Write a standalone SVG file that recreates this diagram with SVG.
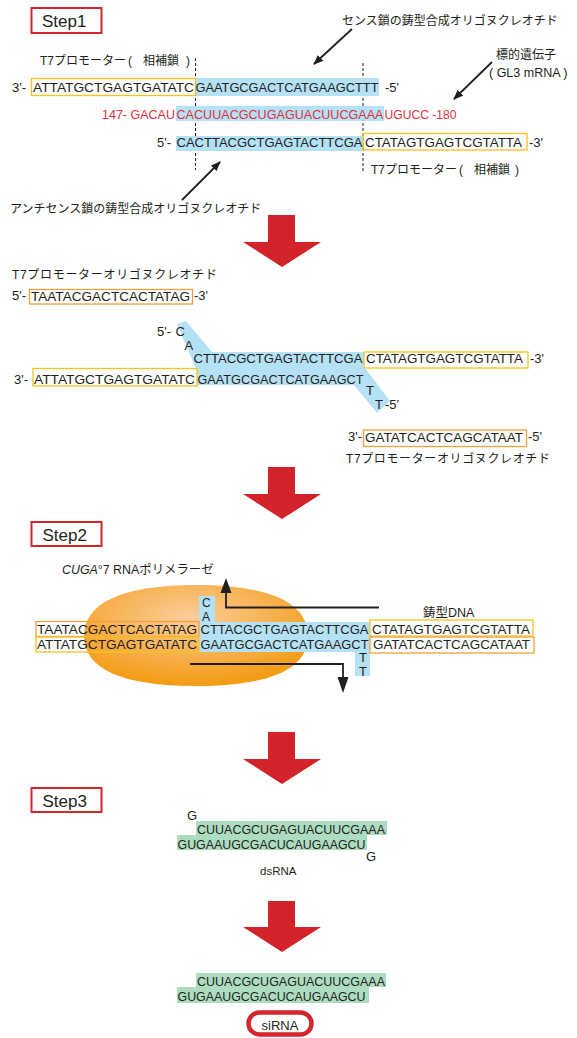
<svg xmlns="http://www.w3.org/2000/svg" width="577" height="1038" viewBox="0 0 577 1038">
<defs>
<style>
.seq{font-family:"Liberation Sans",Arial,sans-serif;font-size:13px;fill:#231F20}
.sq{font-family:"Liberation Sans",Arial,sans-serif;font-size:13px;fill:#231F20}
.jp{font-family:"Liberation Sans","Noto Sans CJK JP",sans-serif;font-size:12px;fill:#231F20}
.red{fill:#E0303A;font-size:12.5px}
.rna{font-size:12.4px}
.ybox{fill:none;stroke:#F9C21E;stroke-width:1.3}
.obox{fill:none;stroke:#F2A03D;stroke-width:1.3}
.blue{fill:#B5E1F6}
.green{fill:#ADDDC0}
.step{fill:#fff;stroke:#D4262E;stroke-width:2}
.steptxt{font-family:"Liberation Sans",Arial,sans-serif;font-size:17px;fill:#231F20}
.big{fill:#D2232A}
.ln{stroke:#231F20;stroke-width:1.8;fill:none}
.dash{stroke:#231F20;stroke-width:1;stroke-dasharray:3 2;fill:none}
.head{fill:#231F20}
</style>
<marker id="ah" viewBox="0 0 10 8" refX="9" refY="4" markerWidth="10" markerHeight="8" markerUnits="userSpaceOnUse" orient="auto"><path d="M0,0 L10,4 L0,8 Z" fill="#231F20"/></marker>
<radialGradient id="og" cx="0.47" cy="0.32" r="0.66">
<stop offset="0" stop-color="#FBCD9C"/>
<stop offset="0.5" stop-color="#F8B458"/>
<stop offset="1" stop-color="#F39C16"/>
</radialGradient>
</defs>
<rect width="577" height="1038" fill="#fff"/>

<!-- STEP 1 -->
<g id="step1-label"><rect class="step" x="31.5" y="8" width="70" height="25"/><text class="steptxt" x="42" y="27">Step1</text></g>

<g id="dashes">
<line class="dash" x1="195.5" y1="58" x2="195.5" y2="170"/>
<line class="dash" x1="363" y1="63" x2="363" y2="172"/>
</g>

<g id="label-t7-comp-1"><text class="jp" x="40" y="65">T7プロモーター<tspan x="128">(</tspan><tspan x="143">相補鎖</tspan><tspan x="186">)</tspan></text></g>
<g id="label-sense"><text class="jp" x="342" y="25">センス鎖の鋳型合成オリゴヌクレオチド</text></g>
<g id="label-target"><text class="jp" x="496" y="59">標的遺伝子</text><text class="seq" style="font-size:12.5px" x="489" y="77">( GL3 mRNA )</text></g>
<g id="label-antisense"><text class="jp" x="10" y="213">アンチセンス鎖の鋳型合成オリゴヌクレオチド</text></g>
<g id="label-t7-comp-2"><text class="jp" x="371" y="174">T7プロモーター<tspan x="459">(</tspan><tspan x="474">相補鎖</tspan><tspan x="515">)</tspan></text></g>

<g id="row-sense-template">
<rect class="blue" x="195" y="78" width="184" height="18"/>
<rect class="ybox" x="31.5" y="78.5" width="164" height="17"/>
<text class="seq" x="12" y="92">3'-</text>
<text class="sq" x="33" y="92" textLength="161" lengthAdjust="spacingAndGlyphs">ATTATGCTGAGTGATATC</text>
<text class="sq" x="195.5" y="92" textLength="183" lengthAdjust="spacingAndGlyphs">GAATGCGACTCATGAAGCTTT</text>
<text class="seq" x="385" y="92">-5'</text>
</g>

<g id="row-mrna">
<rect class="blue" x="176" y="106" width="208" height="15"/>
<text class="sq red" x="102" y="119" textLength="73" lengthAdjust="spacingAndGlyphs">147- GACAU</text>
<text class="sq red" x="176.5" y="119" textLength="207" lengthAdjust="spacingAndGlyphs">CACUUACGCUGAGUACUUCGAAA</text>
<text class="sq red" x="384.5" y="119" textLength="72" lengthAdjust="spacingAndGlyphs">UGUCC -180</text>
</g>

<g id="row-antisense-template">
<rect class="blue" x="176" y="136" width="187" height="15"/>
<rect class="ybox" x="363" y="133.5" width="164" height="16.5"/>
<text class="seq" x="157" y="147">5'-</text>
<text class="sq" x="176.5" y="147" textLength="186" lengthAdjust="spacingAndGlyphs">CACTTACGCTGAGTACTTCGA</text>
<text class="sq" x="365" y="147" textLength="157" lengthAdjust="spacingAndGlyphs">CTATAGTGAGTCGTATTA</text>
<text class="seq" x="529" y="147">-3'</text>
</g>

<!-- annealing -->
<g id="label-t7-oligo-1"><text class="jp" x="12" y="279" textLength="205">T7プロモーターオリゴヌクレオチド</text></g>
<g id="t7-oligo-1">
<rect class="obox" x="29.5" y="289.5" width="163" height="14.5"/>
<text class="seq" x="12" y="300">5'-</text>
<text class="sq" x="31" y="300.5" textLength="159" lengthAdjust="spacingAndGlyphs">TAATACGACTCACTATAG</text>
<text class="seq" x="194" y="300">-3'</text>
</g>

<g id="duplex-upper">
<polygon class="blue" points="177,324 186,321 212,352 364,352 364,368 196,368 193,362"/>
<rect class="ybox" x="364" y="352" width="164" height="16"/>
<text class="seq" x="157" y="336">5'-</text>
<text class="sq" x="175.5" y="336">C</text>
<text class="sq" x="184.5" y="350">A</text>
<text class="sq" x="193.5" y="363" textLength="169" lengthAdjust="spacingAndGlyphs">CTTACGCTGAGTACTTCGA</text>
<text class="sq" x="366" y="363" textLength="157" lengthAdjust="spacingAndGlyphs">CTATAGTGAGTCGTATTA</text>
<text class="seq" x="530" y="362.5">-3'</text>
</g>

<g id="duplex-lower">
<polygon class="blue" points="197,368 365,368 390,401 377,413 354,385 197,385"/>
<rect class="ybox" x="33" y="368.5" width="164" height="17.5"/>
<text class="seq" x="14" y="383.5">3'-</text>
<text class="sq" x="34" y="383.5" textLength="161" lengthAdjust="spacingAndGlyphs">ATTATGCTGAGTGATATC</text>
<text class="sq" x="197.5" y="383.5" style="font-size:12.6px" textLength="166" lengthAdjust="spacingAndGlyphs">GAATGCGACTCATGAAGCT</text>
<text class="sq" x="366" y="395">T</text>
<text class="sq" x="375" y="408.5">T</text>
<text class="seq" x="385" y="408.5">-5'</text>
</g>

<g id="t7-oligo-2">
<rect class="obox" x="363.5" y="430" width="163" height="16.5"/>
<text class="seq" x="348" y="441">3'-</text>
<text class="sq" x="365" y="441.5" textLength="158" lengthAdjust="spacingAndGlyphs">GATATCACTCAGCATAAT</text>
<text class="seq" x="528" y="441">-5'</text>
</g>
<g id="label-t7-oligo-2"><text class="jp" x="346" y="463" textLength="204">T7プロモーターオリゴヌクレオチド</text></g>

<!-- STEP 2 -->
<g id="step2-label"><rect class="step" x="31.5" y="522" width="70" height="24"/><text class="steptxt" x="42.5" y="541">Step2</text></g>

<g id="polymerase">
<path d="M84,636 C84,603 122,585 196,585 C270,585 308,603 308,636 C308,669 270,686 196,686 C122,686 84,669 84,636 Z" fill="url(#og)"/>
<text class="jp" x="62" y="574" style="font-size:12.4px"><tspan font-style="italic">CUGA</tspan>°7 RNAポリメラーゼ</text>
</g>

<g id="template-dna">
<polygon class="blue" points="199,596 215,596 215,622 370,622 370,676 355,676 355,652 199,652"/>
<rect class="obox" x="36" y="621.5" width="163" height="15"/>
<rect class="ybox" x="36" y="637" width="163" height="15"/>
<rect class="ybox" x="370" y="620" width="163" height="16"/>
<rect class="obox" x="370" y="637" width="164" height="16"/>
<text class="sq" x="37" y="634" textLength="160" lengthAdjust="spacingAndGlyphs">TAATACGACTCACTATAG</text>
<text class="sq" x="200.5" y="634" textLength="168" lengthAdjust="spacingAndGlyphs">CTTACGCTGAGTACTTCGA</text>
<text class="sq" x="372" y="634" textLength="158" lengthAdjust="spacingAndGlyphs">CTATAGTGAGTCGTATTA</text>
<text class="sq" x="37" y="648.5" textLength="160" lengthAdjust="spacingAndGlyphs">ATTATGCTGAGTGATATC</text>
<text class="sq" x="200.5" y="648.5" style="font-size:12.7px" textLength="168" lengthAdjust="spacingAndGlyphs">GAATGCGACTCATGAAGCT</text>
<text class="sq" x="373" y="648.5" textLength="157" lengthAdjust="spacingAndGlyphs">GATATCACTCAGCATAAT</text>
<text class="seq" x="202" y="607" style="font-size:12px">C</text>
<text class="seq" x="202" y="620.5" style="font-size:12px">A</text>
<text class="seq" x="359" y="662">T</text>
<text class="seq" x="359" y="675.5">T</text>
<text class="jp" x="423" y="617" style="font-size:12.5px">鋳型DNA</text>
</g>

<!-- STEP 3 -->
<g id="step3-label"><rect class="step" x="31.5" y="788" width="70" height="24"/><text class="steptxt" x="42.5" y="807">Step3</text></g>

<g id="dsrna">
<rect class="green" x="196" y="821" width="191" height="14"/>
<rect class="green" x="177" y="835" width="190" height="15"/>
<text class="sq" x="187" y="819.5">G</text>
<text class="sq rna" x="197" y="833.5" textLength="188" lengthAdjust="spacingAndGlyphs">CUUACGCUGAGUACUUCGAAA</text>
<text class="sq rna" x="177.5" y="848.5" textLength="188" lengthAdjust="spacingAndGlyphs">GUGAAUGCGACUCAUGAAGCU</text>
<text class="sq" x="366" y="861">G</text>
<text class="seq" x="260" y="875" style="font-size:11.5px">dsRNA</text>
</g>

<g id="sirna">
<rect class="green" x="196" y="973" width="190" height="14"/>
<rect class="green" x="177" y="987" width="192" height="16"/>
<text class="sq rna" x="197" y="985.5" textLength="188" lengthAdjust="spacingAndGlyphs">CUUACGCUGAGUACUUCGAAA</text>
<text class="sq rna" x="177.5" y="1000.5" textLength="188" lengthAdjust="spacingAndGlyphs">GUGAAUGCGACUCAUGAAGCU</text>
<rect x="248.5" y="1012.5" width="63" height="22" rx="11" fill="#fff" stroke="#D4262E" stroke-width="4.5"/>
<text class="seq" x="280" y="1029.5" text-anchor="middle">siRNA</text>
</g>

<g id="connectors">
<line class="ln" x1="352" y1="29" x2="314" y2="64" marker-end="url(#ah)"/>
<line class="ln" x1="492" y1="62" x2="454" y2="99" marker-end="url(#ah)"/>
<line class="ln" x1="182" y1="200" x2="220" y2="162" marker-end="url(#ah)"/>
<polyline class="ln" points="379,607.5 226,607.5 226,592"/>
<polygon class="head" points="220.5,593 231.5,593 226,578"/>
<polyline class="ln" points="190,664 343,664 343,678"/>
<polygon class="head" points="337.5,677 348.5,677 343,693"/>
<polygon class="big" points="268,215 295,215 295,242 321,242 282,267 243,242 268,242"/>
<polygon class="big" points="268,467 295,467 295,494 321,494 282,519 243,494 268,494"/>
<polygon class="big" points="268,732 295,732 295,759 321,759 282,784 243,759 268,759"/>
<polygon class="big" points="268,901 295,901 295,927 321,927 282,952 243,927 268,927"/>
</g>
</svg>
